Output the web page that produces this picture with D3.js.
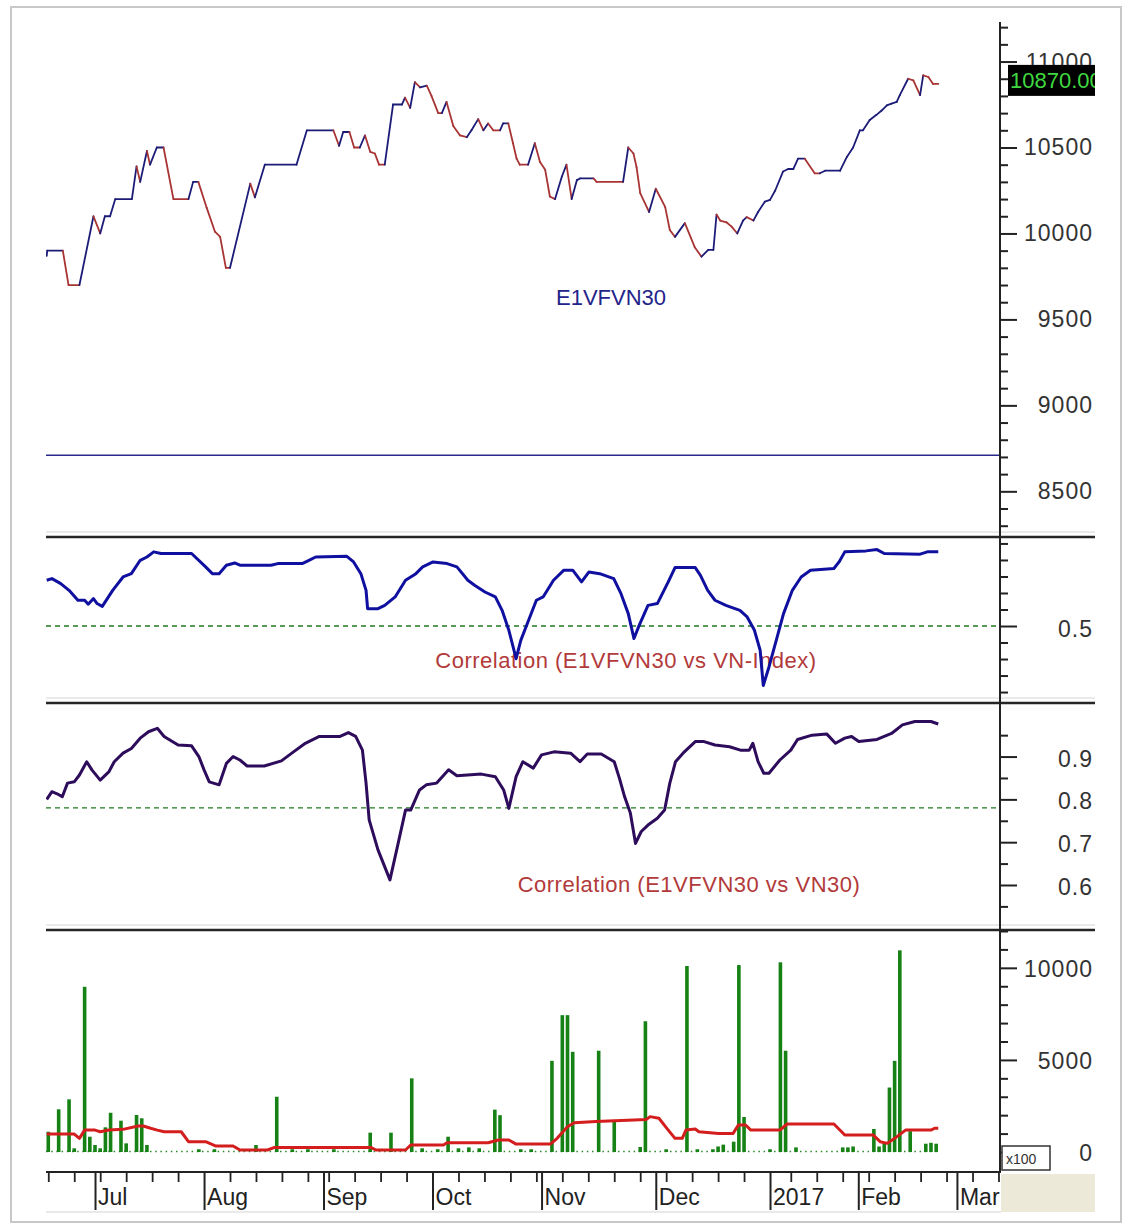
<!DOCTYPE html>
<html><head><meta charset="utf-8">
<script src="https://cdn.jsdelivr.net/npm/d3@7"></script>
<style>
body{margin:0;background:#fff;}
svg{display:block;font-family:"Liberation Sans",Arial,sans-serif;}
</style></head><body>
<svg id="c" width="1125" height="1232"></svg>
<script>
// ---------- DATA (x = trading-day index, 0 = 1 Jul 2016) ----------
const monthLabels = ["Jul","Aug","Sep","Oct","Nov","Dec","2017","Feb","Mar"];
const monthDays   = [0,21,44,65,86,108,130,147,166];
const weekDays    = [-9,-4,1,6,11,16,26,31,36,41,45,50,55,60,70,75,80,85,90,95,100,105,110,115,120,125,134,139,144,149,154,159,164,169,174];

const priceSeries = [[-9.3,9870],[-9.2,9900],[-6.2,9900],[-5.1,9700],[-3.0,9700],[-0.3,10100],[1.0,10000],[1.9,10100],[2.9,10100],[3.9,10200],[7.1,10200],[8.0,10390],[8.7,10300],[10.0,10480],[10.6,10400],[11.9,10500],[13.2,10500],[15.1,10200],[18.0,10200],[18.9,10300],[19.9,10300],[21.5,10150],[23.1,10010],[24.1,9980],[25.2,9800],[26.0,9800],[29.9,10290],[30.8,10210],[32.7,10400],[38.8,10400],[40.8,10600],[45.9,10600],[47.0,10510],[47.8,10590],[49.0,10590],[49.9,10500],[51.0,10500],[52.0,10570],[53.0,10475],[53.9,10465],[54.7,10400],[55.8,10400],[57.4,10750],[59.1,10750],[59.7,10790],[60.7,10730],[61.6,10880],[62.6,10850],[63.9,10860],[64.8,10800],[66.1,10700],[66.8,10700],[67.7,10765],[69.0,10625],[70.3,10570],[71.6,10560],[72.5,10600],[73.8,10665],[74.8,10600],[75.7,10640],[76.7,10600],[78.0,10600],[78.6,10640],[79.6,10640],[80.5,10525],[81.2,10435],[81.8,10400],[83.4,10400],[84.7,10525],[85.7,10415],[86.7,10370],[87.6,10215],[88.6,10200],[89.9,10330],[90.8,10400],[91.8,10200],[92.8,10310],[93.4,10320],[96.0,10320],[96.6,10300],[101.7,10300],[102.7,10500],[103.7,10465],[104.3,10385],[105.0,10235],[106.7,10125],[108.0,10260],[109.8,10155],[110.7,10020],[111.7,9980],[113.6,10060],[115.5,9920],[116.8,9865],[118.1,9905],[119.1,9905],[119.7,10110],[120.4,10075],[121.6,10065],[122.6,10040],[123.7,10000],[124.8,10075],[125.5,10095],[126.8,10075],[127.7,10125],[129.0,10185],[130.0,10195],[131.0,10250],[132.5,10360],[133.5,10375],[134.5,10375],[135.4,10435],[136.7,10435],[138.6,10350],[139.6,10350],[140.6,10365],[143.5,10365],[144.8,10445],[146.0,10500],[147.3,10600],[147.9,10600],[149.2,10660],[150.5,10690],[151.5,10715],[152.5,10745],[153.4,10755],[154.4,10765],[155.0,10805],[156.6,10900],[157.6,10890],[158.9,10805],[159.5,10920],[160.5,10910],[161.4,10870],[162.4,10870]];
const priceLast = 10870.00;
const priceRefLine = 8710;
const priceTicksMajor = [8500,9000,9500,10000,10500,11000];
const priceTicksMinor = d3.range(8300,11201,100);

const corrIndexSeries = [[-9.3,0.777],[-8.3,0.787],[-6.6,0.757],[-5.0,0.716],[-3.3,0.656],[-2.0,0.656],[-1.3,0.632],[-0.3,0.666],[0.4,0.636],[1.4,0.619],[3.4,0.716],[5.4,0.797],[7.0,0.817],[8.7,0.898],[10.0,0.918],[11.3,0.949],[12.7,0.939],[18.6,0.939],[21.3,0.858],[22.6,0.817],[23.9,0.817],[25.3,0.868],[26.9,0.882],[27.9,0.868],[33.9,0.868],[35.2,0.878],[39.9,0.878],[41.2,0.898],[42.5,0.918],[48.5,0.922],[49.8,0.888],[51.2,0.817],[52.2,0.716],[52.5,0.605],[54.5,0.605],[55.8,0.625],[57.8,0.676],[59.8,0.777],[61.8,0.817],[63.1,0.858],[65.1,0.888],[67.8,0.878],[69.7,0.858],[71.8,0.777],[73.1,0.747],[75.1,0.706],[77.1,0.676],[78.4,0.595],[79.7,0.474],[81.1,0.302],[82.0,0.413],[83.0,0.494],[85.0,0.656],[86.3,0.676],[88.3,0.777],[90.3,0.838],[92.0,0.838],[93.7,0.767],[95.1,0.827],[97.2,0.817],[99.9,0.787],[101.3,0.696],[102.7,0.575],[103.8,0.424],[104.8,0.504],[106.5,0.625],[108.3,0.636],[110.4,0.767],[111.7,0.854],[115.6,0.854],[116.6,0.807],[118.0,0.716],[119.4,0.656],[121.5,0.625],[124.2,0.595],[125.6,0.555],[127.0,0.474],[128.1,0.353],[128.7,0.14],[129.8,0.252],[131.2,0.413],[132.6,0.575],[134.3,0.716],[136.0,0.797],[137.8,0.838],[142.3,0.848],[143.3,0.888],[144.4,0.949],[148.5,0.955],[150.6,0.963],[152.0,0.939],[158.9,0.935],[160.3,0.949],[162.4,0.949]];
const corrIndexRef = 0.5;
const corrIndexTicks = [0.1,0.2,0.3,0.4,0.5,0.6,0.7,0.8,0.9,1.0];
const corrIndexLabels = [0.5];

const corrVN30Series = [[-9.3,0.800],[-8.3,0.818],[-7.3,0.813],[-6.3,0.806],[-5.3,0.838],[-4.0,0.841],[-3.0,0.857],[-1.6,0.888],[-0.6,0.869],[1.0,0.845],[2.7,0.865],[3.7,0.888],[5.4,0.908],[7.0,0.919],[8.7,0.943],[10.3,0.958],[12.0,0.966],[13.3,0.947],[16.0,0.927],[18.6,0.925],[20.0,0.900],[21.0,0.869],[22.0,0.841],[23.9,0.834],[25.3,0.884],[26.6,0.900],[27.9,0.892],[29.3,0.878],[32.6,0.878],[35.9,0.890],[37.9,0.908],[40.5,0.931],[43.2,0.947],[47.2,0.947],[48.8,0.956],[50.2,0.947],[51.5,0.915],[52.2,0.838],[52.8,0.752],[54.5,0.682],[56.8,0.612],[58.1,0.682],[59.8,0.775],[60.8,0.775],[62.5,0.822],[63.8,0.834],[65.8,0.838],[68.1,0.869],[69.7,0.855],[74.4,0.859],[77.1,0.853],[78.7,0.822],[79.7,0.779],[81.1,0.853],[82.4,0.888],[84.4,0.873],[86.0,0.904],[88.4,0.911],[91.6,0.908],[93.4,0.888],[94.8,0.906],[97.5,0.906],[100.0,0.888],[101.0,0.849],[102.0,0.806],[103.1,0.768],[104.1,0.697],[105.2,0.725],[106.5,0.740],[108.3,0.756],[109.7,0.775],[110.7,0.838],[111.8,0.888],[113.5,0.911],[115.6,0.935],[117.3,0.935],[119.4,0.927],[122.2,0.923],[124.3,0.915],[126.0,0.915],[126.7,0.931],[127.7,0.888],[128.8,0.861],[129.8,0.861],[131.9,0.892],[134.0,0.915],[135.3,0.940],[138.1,0.950],[140.9,0.953],[142.6,0.931],[144.4,0.943],[145.7,0.947],[147.1,0.935],[150.6,0.940],[153.4,0.954],[155.5,0.974],[157.9,0.982],[161.0,0.982],[162.4,0.976]];
const corrVN30Ref = 0.78;
const corrVN30Major = [0.6,0.7,0.8,0.9];
const corrVN30Minor = [0.55,0.65,0.75,0.85,0.95];

const volumeBars = [[-9,1100],[-7,2320],[-5,2860],[-4,200],[-2,8970],[-1,830],[0,380],[1,200],[2,1340],[3,2130],[5,1700],[6,470],[8,2010],[9,1830],[10,380],[20,150],[23,150],[31,380],[35,3000],[38,150],[41,150],[46,150],[53,1050],[57,1050],[61,4000],[63,200],[66,150],[68,830],[70,200],[72,250],[74,200],[77,2300],[78,2000],[82,150],[84,150],[88,4950],[90,7430],[91,7430],[92,5440],[97,5500],[100,1740],[105,270],[106,7100],[110,150],[114,10100],[116,150],[119,150],[120,300],[121,400],[123,560],[124,10150],[125,1900],[130,150],[132,10300],[133,5500],[135,250],[144,250],[145,250],[146,300],[150,1250],[151,300],[152,450],[153,3500],[154,4950],[155,10950],[157,1130],[160,450],[161,500],[162,450]];
const volumeMA = [[-9.3,975],[-4.0,975],[-3.0,740],[-2.0,1190],[0.0,1190],[1.0,1100],[2.7,1190],[5.4,1230],[8.3,1410],[9.3,1410],[10.7,1290],[12.0,1190],[13.3,1100],[16.6,1100],[18.0,560],[21.3,560],[23.3,325],[26.6,325],[27.9,110],[33.2,110],[34.6,250],[53.1,250],[54.1,110],[59.8,110],[60.8,380],[67.1,380],[67.8,500],[75.7,500],[77.7,650],[79.7,650],[81.1,430],[87.7,430],[89.0,740],[91.0,1370],[92.3,1590],[96.5,1650],[106.2,1770],[106.9,1920],[108.6,1830],[110.4,1190],[111.7,740],[113.1,740],[113.8,1190],[115.6,1250],[116.3,1100],[120.1,1010],[122.9,1010],[123.9,1465],[125.3,1465],[126.3,1190],[131.9,1190],[133.3,1520],[142.3,1520],[144.4,920],[149.9,920],[151.2,560],[152.6,470],[154.0,740],[156.1,1190],[161.0,1190],[161.7,1290],[162.4,1290]];
const volumeMajor = [0,5000,10000];
const volumeMinor = d3.range(1000,12001,1000);

const titlePrice = "E1VFVN30";
const titleCorrIndex = "Correlation (E1VFVN30 vs VN-Index)";
const titleCorrVN30 = "Correlation (E1VFVN30 vs VN30)";

// ---------- LAYOUT ----------
const svg = d3.select("#c");
const L = 46, R = 999, AX = 1000, LBL = 1093, EDGE = 1095;
const x = d3.scaleLinear().domain([-9.44, 174.1]).range([L, R]);
const yP = d3.scaleLinear().domain([8275, 11230]).range([530, 22]);
const yC1 = d3.scaleLinear().domain([0.064, 1.033]).range([698, 538]);
const yC2 = d3.scaleLinear().domain([0.5, 1.02]).range([927.8, 705.2]);
const yV = d3.scaleLinear().domain([0, 12000]).range([1152, 931]);
const boxTop = yP(priceLast) - 19;

const defs = svg.append("defs");
defs.append("clipPath").attr("id","plot").append("rect").attr("x",L).attr("y",0).attr("width",R-L).attr("height",1232);
defs.append("clipPath").attr("id","lbl").append("rect").attr("x",0).attr("y",0).attr("width",EDGE).attr("height",1232);
defs.append("clipPath").attr("id","topcut").append("rect").attr("x",0).attr("y",0).attr("width",EDGE).attr("height",boxTop);

// frame
svg.append("rect").attr("x",11).attr("y",7).attr("width",1110).attr("height",1215)
  .attr("fill","none").attr("stroke","#c8c8c8").attr("stroke-width",2);

const plot = svg.append("g").attr("clip-path","url(#plot)");
const labelG = svg.append("g").attr("clip-path","url(#lbl)");

// ---------- PANEL 1: price ----------
plot.append("line").attr("x1",L).attr("x2",R).attr("y1",yP(priceRefLine)).attr("y2",yP(priceRefLine))
  .attr("stroke","#2a2a8a").attr("stroke-width",1.5);
plot.append("text").attr("x",611).attr("y",305).attr("text-anchor","middle")
  .attr("font-size",22).attr("fill","#23238a").text(titlePrice);
let prevCol = "#1c1c78";
for (let i=1;i<priceSeries.length;i++){
  const a=priceSeries[i-1], b=priceSeries[i];
  if (b[1]>a[1]) prevCol="#1c1c78"; else if (b[1]<a[1]) prevCol="#a83434";
  plot.append("line").attr("x1",x(a[0])).attr("y1",yP(a[1])).attr("x2",x(b[0])).attr("y2",yP(b[1]))
    .attr("stroke",prevCol).attr("stroke-width",1.8).attr("stroke-linecap","round");
}

// ---------- PANEL 2 ----------
plot.append("line").attr("x1",L).attr("x2",R).attr("y1",yC1(corrIndexRef)).attr("y2",yC1(corrIndexRef))
  .attr("stroke","#1f7a1f").attr("stroke-width",1.3).attr("stroke-dasharray","5,4");
plot.append("text").attr("x",626).attr("y",668).attr("text-anchor","middle")
  .attr("font-size",22).attr("letter-spacing","0.5").attr("fill","#b23a3a").text(titleCorrIndex);
plot.append("path").datum(corrIndexSeries)
  .attr("d", d3.line().x(d=>x(d[0])).y(d=>yC1(d[1])))
  .attr("fill","none").attr("stroke","#1010a0").attr("stroke-width",3).attr("stroke-linejoin","round");

// ---------- PANEL 3 ----------
plot.append("line").attr("x1",L).attr("x2",R).attr("y1",yC2(corrVN30Ref)).attr("y2",yC2(corrVN30Ref))
  .attr("stroke","#1f7a1f").attr("stroke-width",1.3).attr("stroke-dasharray","5,4");
plot.append("text").attr("x",689).attr("y",892).attr("text-anchor","middle")
  .attr("font-size",22).attr("letter-spacing","0.5").attr("fill","#b23a3a").text(titleCorrVN30);
plot.append("path").datum(corrVN30Series)
  .attr("d", d3.line().x(d=>x(d[0])).y(d=>yC2(d[1])))
  .attr("fill","none").attr("stroke","#2e0c5c").attr("stroke-width",3).attr("stroke-linejoin","round");

// ---------- PANEL 4: volume ----------
plot.append("line").attr("x1",x(-9.44)).attr("x2",x(162.4)).attr("y1",yV(0)-0.5).attr("y2",yV(0)-0.5)
  .attr("stroke","#2a8a2a").attr("stroke-width",1.5).attr("stroke-dasharray","1.5,3.7");
plot.selectAll("rect.vol").data(volumeBars).join("rect").attr("class","vol")
  .attr("x",d=>x(d[0])-1.8).attr("width",3.6)
  .attr("y",d=>yV(d[1])).attr("height",d=>yV(0)-yV(d[1]))
  .attr("fill","#168216");
plot.append("path").datum(volumeMA)
  .attr("d", d3.line().x(d=>x(d[0])).y(d=>yV(d[1])))
  .attr("fill","none").attr("stroke","#d41e1e").attr("stroke-width",3).attr("stroke-linejoin","round");

// ---------- separators ----------
[[532,537],[698,703],[925,930]].forEach(([l,dk])=>{
  svg.append("line").attr("x1",L).attr("x2",EDGE).attr("y1",l).attr("y2",l).attr("stroke","#d6d6d6").attr("stroke-width",1.2);
  svg.append("line").attr("x1",L).attr("x2",EDGE).attr("y1",dk).attr("y2",dk).attr("stroke","#262626").attr("stroke-width",2.5);
});

// ---------- right axis ----------
svg.append("line").attr("x1",AX).attr("x2",AX).attr("y1",22).attr("y2",1172).attr("stroke","#222").attr("stroke-width",2);
function ticks(scale, vals, len){
  const g = svg.append("g").attr("transform",`translate(${AX},0)`)
    .call(d3.axisRight(scale).tickValues(vals).tickSize(len).tickFormat(""));
  g.select(".domain").remove();
  g.selectAll(".tick line").attr("stroke","#222").attr("stroke-width",2);
}
function labels(scale, vals, fmt, dy, parent){
  (parent||labelG).selectAll(null).data(vals).join("text")
    .attr("x",LBL).attr("y",d=>scale(d)+dy).attr("text-anchor","end")
    .attr("font-size",23).attr("letter-spacing","1").attr("fill","#333").text(fmt);
}
ticks(yP, priceTicksMinor.filter(v=>!priceTicksMajor.includes(v)), 8);
ticks(yP, priceTicksMajor, 17);
labels(yP, priceTicksMajor.filter(v=>v<11000), d=>d, 8);
// 11000 label is mostly hidden behind the last-value box (only its top shows)
labels(yP, priceTicksMajor.filter(v=>v>=11000), d=>d, 8, svg.append("g").attr("clip-path","url(#topcut)"));
ticks(yC1, corrIndexTicks.filter(v=>!corrIndexLabels.includes(v)), 8);
ticks(yC1, corrIndexLabels, 17);
labels(yC1, corrIndexLabels, d=>d.toFixed(1), 11);
ticks(yC2, corrVN30Minor, 8);
ticks(yC2, corrVN30Major, 17);
labels(yC2, corrVN30Major, d=>d.toFixed(1), 10);
ticks(yV, volumeMinor.filter(v=>!volumeMajor.includes(v)), 8);
ticks(yV, volumeMajor, 17);
labels(yV, volumeMajor, d=>d, 9);

// last-value box
const bx = labelG.append("g");
bx.append("rect").attr("x",1008).attr("y",boxTop).attr("width",90).attr("height",31).attr("fill","#000");
bx.append("text").attr("x",1010).attr("y",yP(priceLast)+4).attr("font-size",22).attr("fill","#3fd83f")
  .text(priceLast.toFixed(2));

// x100 box
svg.append("rect").attr("x",1002).attr("y",1146).attr("width",48).attr("height",24).attr("fill","#fff")
  .attr("stroke","#333").attr("stroke-width",1.5);
svg.append("text").attr("x",1006).attr("y",1164).attr("font-size",14).attr("fill","#333").text("x100");

// ---------- bottom axis ----------
svg.append("rect").attr("x",1001).attr("y",1174).attr("width",EDGE-1001).attr("height",38).attr("fill","#ece9d8");
svg.append("line").attr("x1",L).attr("x2",1001).attr("y1",1212).attr("y2",1212).attr("stroke","#e2e2e2").attr("stroke-width",1.5);
const gx1 = svg.append("g").attr("transform","translate(0,1172)")
  .call(d3.axisBottom(x).tickValues(weekDays).tickSize(10).tickFormat(""));
gx1.select(".domain").remove();
gx1.selectAll(".tick line").attr("stroke","#222").attr("stroke-width",1.8);
const gx2 = svg.append("g").attr("transform","translate(0,1172)")
  .call(d3.axisBottom(x).tickValues(monthDays).tickSize(38).tickFormat(""));
gx2.select(".domain").remove();
gx2.selectAll(".tick line").attr("stroke","#222").attr("stroke-width",2);
svg.append("line").attr("x1",L).attr("x2",1001).attr("y1",1172).attr("y2",1172).attr("stroke","#222").attr("stroke-width",2);
svg.selectAll("text.mon").data(monthLabels).join("text").attr("class","mon")
  .attr("x",(d,i)=>x(monthDays[i])+3).attr("y",1205)
  .attr("font-size",23).attr("fill","#222").text(d=>d);
</script>
</body></html>
